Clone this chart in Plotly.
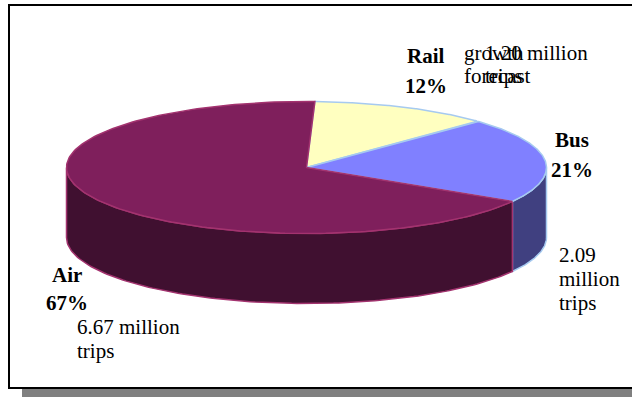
import numpy as np
import plotly.graph_objects as go

# ---- data ----
modes = ["Rail", "Bus", "Air"]
trips_millions = [1.20, 2.09, 6.67]
detail_lines = [["1.20 million", "trips"], ["2.09", "million", "trips"], ["6.67 million", "trips"]]
note_lines = ["growth", "forecast"]

# ---- style ----
top_colors = ["#FFFFC0", "#8080FF", "#7F1F5C"]
side_colors = ["#808060", "#404080", "#401030"]
edge_colors = ["#A6CAF0", "#A6CAF0", "#A3336F"]
FONT = "Liberation Serif, Times New Roman, serif"
FS = 21

W, H = 632, 397
CX, CY, RX, RY, DEPTH = 306.5, 167.5, 240.0, 66.0, 70.0
START = 2.0  # first slice angle (deg, clockwise from 12 o'clock)


def pt(phi, dy=0.0):
    r = np.radians(phi)
    return CX + RX * np.sin(r), CY - RY * np.cos(r) + dy


total = sum(trips_millions)
fracs = [v / total for v in trips_millions]
bounds = []
acc = START
for f in fracs:
    bounds.append((acc, acc + 360 * f))
    acc += 360 * f

fig = go.Figure()

# side walls (front half only: 90..270 deg clockwise from top)
for i, (a, b) in enumerate(bounds):
    lo, hi = max(a, 90), min(b, 270)
    if hi <= lo:
        continue
    ph = np.linspace(lo, hi, 120)
    xt, yt = pt(ph)
    xb, yb = pt(ph[::-1], DEPTH)
    xs = np.concatenate([xt, xb, xt[:1]])
    ys = np.concatenate([yt, yb, yt[:1]])
    fig.add_trace(go.Scatter(x=xs, y=ys, mode="lines", fill="toself",
                             fillcolor=side_colors[i],
                             line=dict(color=edge_colors[i], width=1.5),
                             hoverinfo="skip", showlegend=False))

# top faces
for i, (a, b) in enumerate(bounds):
    ph = np.linspace(a, b, 200)
    xa, ya = pt(ph)
    xs = np.concatenate([[CX], xa, [CX]])
    ys = np.concatenate([[CY], ya, [CY]])
    fig.add_trace(go.Scatter(x=xs, y=ys, mode="lines", fill="toself",
                             fillcolor=top_colors[i],
                             line=dict(color=edge_colors[i], width=1.5),
                             hoverinfo="skip", showlegend=False))

pcts = [f"{round(f * 100)}%" for f in fracs]

# label positions (baselines) in pixels
name_pos = {"Rail": (426, 63, 93), "Bus": (572, 147, 177), "Air": (67, 282, 310)}
detail_pos = {"Rail": (483, 60, 23), "Bus": (557, 262, 24), "Air": (75, 334, 24)}
note_pos = (462, 60, 23)

ann = []


def add_text(x, base, text, bold=False, anchor="left"):
    ann.append(dict(x=x, y=base - 7, xref="x", yref="y", text=(f"<b>{text}</b>" if bold else text),
                    showarrow=False, xanchor=anchor, yanchor="middle",
                    font=dict(family=FONT, size=FS, color="black")))


for i, m in enumerate(modes):
    x, b1, b2 = name_pos[m]
    add_text(x, b1, m, bold=True, anchor="center")
    add_text(x, b2, pcts[i], bold=True, anchor="center")
    x, b, sp = detail_pos[m]
    for k, line in enumerate(detail_lines[i]):
        add_text(x, b + k * sp, line)

x, b, sp = note_pos
for k, line in enumerate(note_lines):
    add_text(x, b + k * sp, line)

shapes = [
    dict(type="rect", xref="x", yref="y", x0=22, x1=650, y0=389, y1=400,
         fillcolor="#808080", line=dict(width=0), layer="below"),
    dict(type="rect", xref="x", yref="y", x0=9, x1=660, y0=5, y1=388,
         fillcolor="white", line=dict(color="black", width=2), layer="below"),
]

fig.update_layout(
    width=W, height=H, margin=dict(l=0, r=0, t=0, b=0),
    paper_bgcolor="white", plot_bgcolor="white",
    xaxis=dict(range=[0, W], visible=False, fixedrange=True),
    yaxis=dict(range=[H, 0], visible=False, fixedrange=True),
    annotations=ann, shapes=shapes, showlegend=False,
)

fig.write_html("out.html")
